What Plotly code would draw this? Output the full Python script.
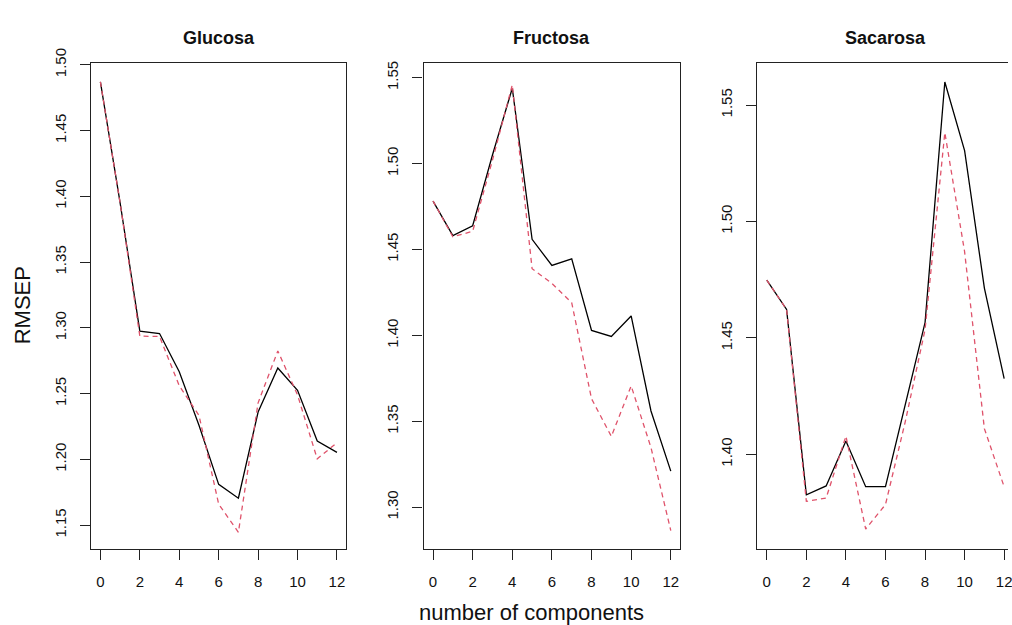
import plotly.graph_objects as go

W, H = 1012, 625

components = list(range(13))

titles = ["Glucosa", "Fructosa", "Sacarosa"]

glucosa_cv = [1.487, 1.395, 1.2975, 1.2957, 1.2666, 1.226, 1.181, 1.1705, 1.236, 1.2695, 1.2526, 1.214, 1.2053]
glucosa_adj = [1.487, 1.395, 1.2937, 1.2935, 1.256, 1.2335, 1.166, 1.1446, 1.243, 1.2825, 1.249, 1.2004, 1.2127]

fructosa_cv = [1.4782, 1.4581, 1.4638, 1.505, 1.5439, 1.4559, 1.4407, 1.4445, 1.4029, 1.3994, 1.4113, 1.356, 1.321]
fructosa_adj = [1.4782, 1.4574, 1.4606, 1.502, 1.5458, 1.4388, 1.4303, 1.419, 1.3631, 1.3412, 1.3706, 1.3347, 1.2864]

sacarosa_cv = [1.4748, 1.4622, 1.3826, 1.3864, 1.4057, 1.3861, 1.3861, 1.421, 1.4565, 1.5599, 1.5304, 1.4714, 1.4325]
sacarosa_adj = [1.4748, 1.4622, 1.3798, 1.3812, 1.4078, 1.3679, 1.3784, 1.414, 1.4535, 1.5382, 1.487, 1.411, 1.386]

cv_series = [glucosa_cv, fructosa_cv, sacarosa_cv]
adj_series = [glucosa_adj, fructosa_adj, sacarosa_adj]

y_ranges = [[1.1322, 1.5013], [1.2759, 1.5585], [1.3595, 1.568]]
y_ticks = [[1.15, 1.20, 1.25, 1.30, 1.35, 1.40, 1.45, 1.50],
           [1.30, 1.35, 1.40, 1.45, 1.50, 1.55],
           [1.40, 1.45, 1.50, 1.55]]
x_ticks = [0, 2, 4, 6, 8, 10, 12]

# panel boxes in pixels
box_px = [(91.3, 347.8), (425.2, 683.0), (760.3, 1012.0)]
x_ranges = [[-0.48, 12.48], [-0.48, 12.48], [-0.48, -0.48 + (1012 - 760.3) / 19.86]]
top_px, bot_px = 49.3, 546.7

FONT = "Liberation Sans, Arial, sans-serif"
AX = "#222222"
RED = "#DF536B"

fig = go.Figure()
layout = dict(
    width=W, height=H,
    margin=dict(l=0, r=0, t=0, b=0),
    paper_bgcolor="white", plot_bgcolor="white",
    showlegend=False,
    font=dict(family=FONT, color="#111111"),
)

annotations = []
for i in range(3):
    xa = "x" if i == 0 else f"x{i+1}"
    ya = "y" if i == 0 else f"y{i+1}"
    fig.add_trace(go.Scatter(x=components, y=cv_series[i], mode="lines",
                             line=dict(color="black", width=1.3),
                             xaxis=xa, yaxis=ya, hoverinfo="skip"))
    fig.add_trace(go.Scatter(x=components, y=adj_series[i], mode="lines",
                             line=dict(color=RED, width=1.3, dash="5px,4px"),
                             xaxis=xa, yaxis=ya, hoverinfo="skip"))
    kx = "xaxis" if i == 0 else f"xaxis{i+1}"
    ky = "yaxis" if i == 0 else f"yaxis{i+1}"
    l, r = box_px[i]
    layout[kx] = dict(
        domain=[l / W, r / W], range=x_ranges[i], anchor=ya,
        tickmode="array", tickvals=x_ticks, ticktext=[str(v) for v in x_ticks],
        ticks="outside", ticklen=10, tickwidth=1.2, tickcolor=AX,
        showline=True, linecolor=AX, linewidth=1.2, mirror=True,
        showgrid=False, zeroline=False,
        tickfont=dict(family=FONT, size=15, color="#111111"),
        ticklabelstandoff=9, ticklabeloverflow="allow",
    )
    layout[ky] = dict(
        domain=[1 - bot_px / H, 1 - top_px / H], range=y_ranges[i], anchor=xa,
        tickmode="array", tickvals=y_ticks[i], ticktext=[f"{v:.2f}" for v in y_ticks[i]],
        ticks="outside", ticklen=10, tickwidth=1.2, tickcolor=AX, tickangle=-90,
        showline=True, linecolor=AX, linewidth=1.2, mirror=(i < 2),
        showgrid=False, zeroline=False,
        tickfont=dict(family=FONT, size=15, color="#111111"),
        ticklabelstandoff=8, ticklabeloverflow="allow",
    )
    cx = (box_px[i][0] + (box_px[i][0] + 256.5)) / 2
    annotations.append(dict(text=f"<b>{titles[i]}</b>", x=cx / W, y=1 - 23.5 / H,
                            xref="paper", yref="paper", showarrow=False,
                            xanchor="center", yanchor="middle",
                            font=dict(family=FONT, size=18, color="#111111")))

annotations.append(dict(text="number of components", x=534 / W, y=1 - 612 / H,
                        xref="paper", yref="paper", showarrow=False,
                        xanchor="center", yanchor="middle",
                        font=dict(family=FONT, size=22, color="#111111")))
annotations.append(dict(text="RMSEP", x=22.5 / W, y=1 - 297 / H, textangle=-90,
                        xref="paper", yref="paper", showarrow=False,
                        xanchor="center", yanchor="middle",
                        font=dict(family=FONT, size=22, color="#111111")))
layout["annotations"] = annotations
fig.update_layout(**layout)
fig.write_html("out.html", post_script="document.body.style.margin='0px';")
